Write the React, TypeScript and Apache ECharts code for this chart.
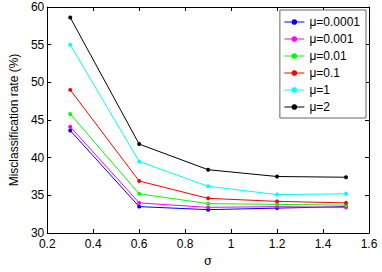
import React, { useEffect, useRef } from "react";
import * as echarts from "echarts";

const sigma = [0.3, 0.6, 0.9, 1.2, 1.5];
const seriesNames = ["μ=0.0001", "μ=0.001", "μ=0.01", "μ=0.1", "μ=1", "μ=2"];
const mu00001 = [43.6, 33.5, 33.1, 33.3, 33.5];
const mu0001 = [44.1, 34.0, 33.4, 33.5, 33.4];
const mu001 = [45.8, 35.2, 33.9, 33.8, 33.7];
const mu01 = [49.0, 36.9, 34.6, 34.2, 34.0];
const mu1 = [55.0, 39.5, 36.2, 35.1, 35.2];
const mu2 = [58.6, 41.8, 38.4, 37.5, 37.4];
const colors = ["#0000ff", "#ff00ff", "#00ff00", "#ff0000", "#00ffff", "#000000"];

export default function App() {
  const ref = useRef<HTMLDivElement>(null);
  useEffect(() => {
    const chart = echarts.init(ref.current!, undefined, { renderer: "svg" });
    const all = [mu00001, mu0001, mu001, mu01, mu1, mu2];
    const font = "Liberation Sans";
    const axisCommon = {
      axisLine: { show: true, onZero: false, lineStyle: { color: "#000", width: 1 } },
      axisTick: { show: true, inside: true, length: 4, lineStyle: { color: "#000" } },
      splitLine: { show: false },
    };
    chart.setOption({
      animation: false,
      textStyle: { fontFamily: font },
      grid: { left: 35, right: 13, top: 7, bottom: 29, containLabel: false },
      xAxis: [
        {
          type: "value", min: 0.2, max: 1.6, interval: 0.2, position: "bottom",
          ...axisCommon,
          axisLabel: { color: "#000", fontSize: 12, fontFamily: font, margin: 5, lineHeight: 12,
            formatter: (v: number) => String(Math.round(v * 10) / 10) },
          name: "σ", nameLocation: "middle", nameGap: 22,
          nameTextStyle: { color: "#000", fontSize: 12, fontFamily: "DejaVu Serif" },
        },
        {
          type: "value", min: 0.2, max: 1.6, interval: 0.2, position: "top",
          ...axisCommon, axisLabel: { show: false },
        },
      ],
      yAxis: [
        {
          type: "value", min: 30, max: 60, interval: 5, position: "left",
          ...axisCommon,
          axisLabel: { color: "#000", fontSize: 12, fontFamily: font, margin: 3, lineHeight: 10 },
          name: "Misclassification rate (%)", nameLocation: "middle", nameGap: 20,
          nameTextStyle: { color: "#000", fontSize: 12, fontFamily: font },
        },
        {
          type: "value", min: 30, max: 60, interval: 5, position: "right",
          ...axisCommon, axisLabel: { show: false },
        },
      ],
      legend: {
        orient: "vertical", right: 16, top: 10,
        backgroundColor: "#fff", borderColor: "#666", borderWidth: 1,
        padding: [6, 6, 5, 4], itemGap: 5, itemWidth: 20, itemHeight: 7,
        lineStyle: { width: 1 },
        textStyle: { color: "#000", fontSize: 12, fontFamily: font },
        data: seriesNames,
      },
      series: seriesNames.map((name, i) => ({
        name, type: "line",
        data: sigma.map((s, j) => [s, all[i][j]]),
        symbol: "circle", symbolSize: 4,
        lineStyle: { color: colors[i], width: 1 },
        itemStyle: { color: colors[i] },
      })),
    });
    return () => chart.dispose();
  }, []);
  return <div ref={ref} style={{ width: 382, height: 272, position: "absolute", left: 0, top: 0, background: "#fff" }} />;
}
